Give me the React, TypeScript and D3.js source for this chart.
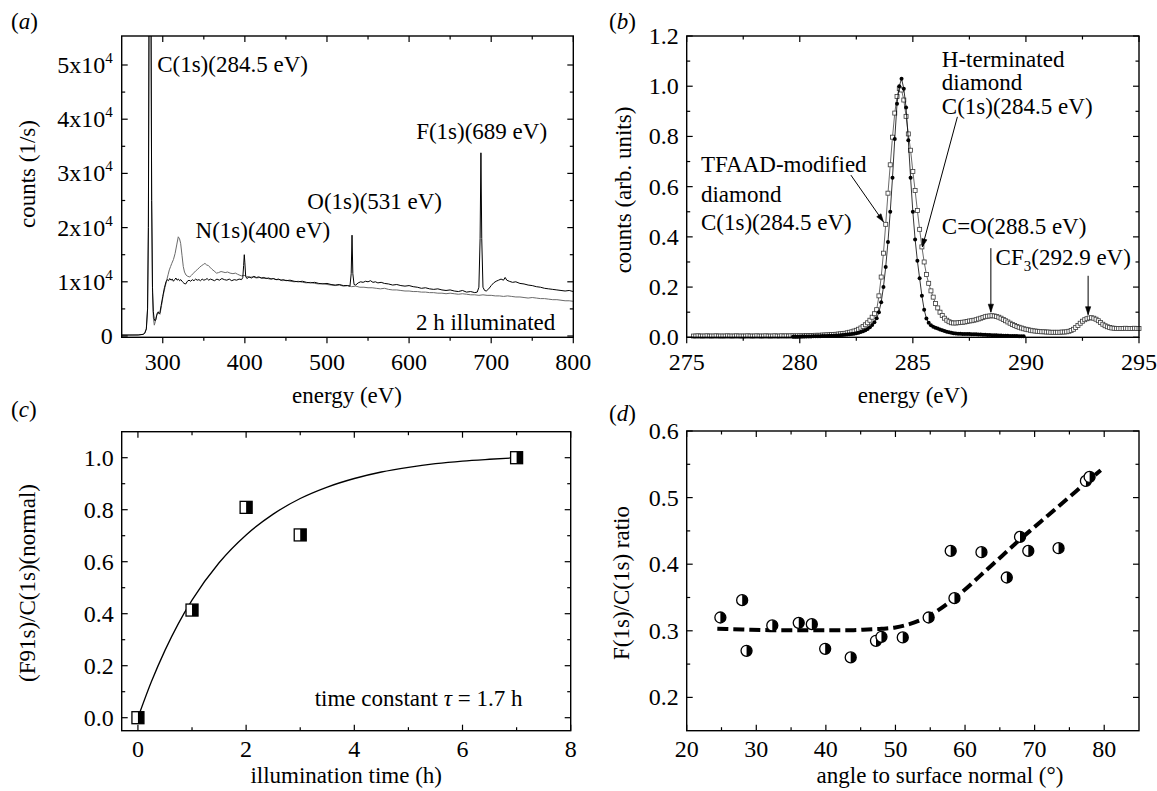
import React, { useEffect, useRef } from "react";
import * as d3 from "d3";

const FONT = "'Liberation Serif','Times New Roman',Times,serif";

// ---------------- Panel (a): survey spectra (energy eV, counts 1/s) ----------------
const aIlluminated: [number, number][] = [
  [250,180],[260,180],[270,190],[276,300],[278,500],[280,1300],[281.5,5000],[282.5,20000],[283.3,60000],[284.5,120000],
  [285.7,60000],[286.5,25000],[287.5,9000],[288.5,4500],[289.5,3200],[290.5,2800],[291.5,3000],[292.5,3700],[293.5,4200],
  [294.5,4400],[295.5,4100],[296.5,4300],[298,5600],[300,7300],[302,8900],[304,10000],[305.5,10400],[307,10200],[308.5,10600],
  [310,10300],[311.5,10500],[313,10100],[314.5,10400],[316,10700],[317.5,10300],[319,10500],[320.5,10200],[322,10400],
  [324,10000],[326,9700],[328,9600],[330,10100],[332,10300],[334,10100],[336,10400],[338,10200],[340,10500],[342,10300],
  [344,10400],[346,10200],[348,10500],[350,10300],[352,10400],[354,10600],[356,10300],[358,10500],[360,10400],[363,10200],
  [366,10500],[369,10300],[372,10600],[375,10400],[378,10300],[381,10500],[384,10200],[387,10400],[390,10300],[393,10500],
  [396,10400],[397.5,10800],[398.5,13000],[399.3,15000],[400,13500],[401,11000],[402.5,10600],[405,10900],[408,10700],
  [411,11000],[414,10800],[417,10900],[420,10700],[423,10800],[426,10600],[429,10700],[432,10500],[435,10600],[438,10400],
  [441,10500],[444,10300],[447,10400],[450,10200],[455,10300],[460,10100],[465,10000],[470,10100],[475,9900],[480,9800],
  [485,9900],[490,9700],[495,9600],[500,9700],[505,9500],[510,9400],[515,9500],[520,9300],[525,9300],[528,9200],
  [529.5,11500],[530.5,18600],[531.5,11500],[533,9500],[535,9400],[538,9800],[541,10000],[544,9900],[547,10100],[550,10000],
  [553,10200],[556,9900],[559,10000],[562,9800],[566,9900],[570,9700],[575,9600],[580,9400],[585,9500],[590,9300],
  [595,9200],[600,9300],[605,9100],[610,9000],[615,8800],[620,8900],[625,8700],[630,8600],[635,8700],[640,8500],
  [645,8400],[650,8500],[655,8300],[660,8200],[665,8400],[670,8100],[675,8200],[680,8000],[683,8100],[685,9000],
  [686.5,18000],[687.5,33800],[688.5,18000],[690,9000],[692,8400],[694,8300],[697,8700],[700,9300],[703,9800],[706,10100],
  [709,10300],[712,10500],[715,10300],[717,10800],[719,10300],[722,10100],[726,9900],[730,10000],[735,9700],[740,9600],
  [745,9400],[750,9300],[755,9100],[760,9000],[765,8800],[770,8700],[775,8600],[780,8500],[785,8400],[790,8300],
  [795,8400],[800,8200]
];
const aReference: [number, number][] = [
  [250,180],[260,180],[270,190],[276,300],[278,500],[280,1300],[281.5,5000],[282.5,20000],[283.3,60000],[284.5,120000],
  [285.7,60000],[286.5,25000],[287.5,8000],[288.5,3500],[289.7,2000],[290.8,2600],[291.8,3300],[292.6,3900],[293.6,4300],
  [294.6,4500],[295.6,4200],[296.6,4000],[298.5,5600],[300.7,7600],[302.8,9000],[304.8,10300],[306.5,11300],[308,12200],
  [309.5,12800],[311,13400],[313,14100],[315,15200],[317,16800],[318.9,18300],[320.5,17900],[321.8,17100],[323.5,14800],
  [325,12800],[326.5,11800],[328.3,11250],[330.5,11000],[333,10900],[335,11200],[337.5,11600],[340,12000],[342.5,12300],
  [345,12700],[347.5,13000],[349.5,13200],[351.4,13400],[353.5,13100],[355.5,13000],[357.5,12700],[360,12300],[362.5,12000],
  [365.5,11600],[368,11700],[371,11900],[373.5,11800],[376,11700],[379,11800],[382,11600],[385.5,11500],[388.5,11600],
  [391,11400],[394,11200],[396,11100],[399,11200],[402,11000],[406,10850],[410,10900],[414,10700],[418,10800],[422,10600],
  [426,10700],[430,10500],[434,10600],[438,10400],[442,10400],[446,10200],[450,10300],[455,10100],[460,10000],[465,10100],
  [470,9900],[475,9800],[480,9900],[485,9700],[490,9600],[495,9700],[500,9500],[505,9400],[510,9300],[515,9400],
  [520,9200],[525,9300],[530,9100],[535,9200],[540,9000],[545,9000],[550,8900],[555,8900],[560,8800],[565,8700],
  [570,8800],[575,8600],[580,8500],[585,8500],[590,8400],[595,8300],[600,8300],[605,8200],[610,8200],[615,8100],
  [620,8100],[625,8000],[630,8000],[635,7900],[640,7900],[645,7800],[650,7900],[655,7800],[660,7700],[665,7800],
  [670,7700],[675,7600],[680,7600],[685,7500],[690,7600],[695,7500],[700,7500],[705,7400],[710,7400],[715,7300],
  [720,7400],[725,7300],[730,7200],[735,7200],[740,7100],[745,7000],[750,7100],[755,7000],[760,6900],[765,6900],
  [770,6800],[775,6700],[780,6700],[785,6600],[790,6500],[795,6500],[800,6400]
];
const aXTicks = [300, 400, 500, 600, 700, 800];
const aXMinor = [350, 450, 550, 650, 750];
const aYTicks = [0, 10000, 20000, 30000, 40000, 50000];
const aYMinor = [5000, 15000, 25000, 35000, 45000];
const aLabels = [
  { text: "C(1s)(284.5 eV)", e: 293.2, c: 48700 },
  { text: "N(1s)(400 eV)", e: 339.9, c: 18170 },
  { text: "O(1s)(531 eV)", e: 476, c: 23340 },
  { text: "F(1s)(689 eV)", e: 608.6, c: 36350 },
  { text: "2 h illuminated", e: 608.4, c: 1100 },
];

// ---------------- Panel (b): C(1s) high resolution ----------------
const bStep = 0.1;
const bTfaadStart = 275.3;
const bTfaad = [
  .005,.005,.006,.005,.005,.005,.006,
  .005,.005,.005,.006,.005,.005,.005,.005,.006,.005,
  .005,.005,.006,.005,.005,.005,.005,.006,.005,.005,
  .005,.006,.005,.005,.005,.006,.005,.005,.005,.006,
  .005,.005,.006,.005,.006,.005,.006,.006,.005,.006,
  .006,.006,.006,.007,.007,.007,.007,.008,.008,.008,
  .009,.009,.010,.010,.011,.011,.012,.013,.014,.015,
  .016,.018,.020,.022,.025,.028,.032,.037,.043,.050,
  .058,.068,.080,.094,.110,.165,.240,.335,.450,.574,
  .687,.797,.893,.959,.990,.985,.945,.880,.810,.745,
  .660,.585,.505,.430,.360,.300,.250,.215,.185,.160,
  .135,.117,.100,.087,.076,.068,.062,.058,.057,.057,
  .058,.059,.060,.061,.063,.065,.066,.068,.070,.073,
  .076,.079,.082,.084,.085,.086,.085,.083,.080,.076,
  .071,.066,.061,.056,.051,.047,.043,.040,.037,.034,
  .032,.030,.028,.026,.025,.024,.023,.022,.022,.021,
  .021,.020,.020,.020,.020,.020,.021,.021,.022,.024,
  .027,.032,.039,.047,.056,.064,.070,.074,.077,.078,
  .076,.072,.066,.059,.052,.046,.042,.039,.037,.036,
  .035,.035,.035,.035,.036,.035,.035,.035,.036,.035,
  .035
];
const bHtermStart = 279.7;
const bHterm = [
  .002,.002,.002,
  .002,.003,.003,.003,.003,.003,.004,.004,.004,.004,
  .005,.005,.005,.006,.006,.006,.007,.007,.008,.009,
  .010,.011,.012,.013,.014,.016,.018,.021,.024,.028,
  .033,.040,.049,.060,.076,.100,.140,.200,.280,.380,
  .500,.635,.790,.930,1.000,1.030,.990,.915,.785,.635,
  .500,.390,.305,.235,.165,.110,.075,.058,.048,.042,
  .038,.035,.031,.028,.025,.022,.020,.018,.016,.015,
  .014,.014,.013,.013,.013,.013,.012,.012,.012,.011,
  .011,.010,.010,.009,.009,.008,.008,.008,.007,.007,
  .006,.006,.006,.005,.005,.005,.005,.004,.004,.004
];
const bXTicks = [275, 280, 285, 290, 295];
const bXMinor = [277.5, 282.5, 287.5, 292.5];
const bYTicks = [0, 0.2, 0.4, 0.6, 0.8, 1.0, 1.2];
const bYMinor = [0.1, 0.3, 0.5, 0.7, 0.9, 1.1];
const bLabels = [
  { text: "H-terminated", e: 286.28, v: 1.078 },
  { text: "diamond", e: 286.28, v: 0.986 },
  { text: "C(1s)(284.5 eV)", e: 286.28, v: 0.891 },
  { text: "TFAAD-modified", e: 275.63, v: 0.66 },
  { text: "diamond", e: 275.63, v: 0.539 },
  { text: "C(1s)(284.5 eV)", e: 275.63, v: 0.427 },
  { text: "C=O(288.5 eV)", e: 286.28, v: 0.413 },
];
const bCF3Label = { e: 288.66, v: 0.288 };
const bArrows = [
  { from: [282.26, 0.646], to: [283.7, 0.46] },
  { from: [286.97, 0.878], to: [285.42, 0.36] },
  { from: [288.45, 0.355], to: [288.45, 0.1] },
  { from: [292.75, 0.245], to: [292.75, 0.09] },
];

// ---------------- Panel (c): F/C ratio vs illumination time ----------------
const cTime = [0, 1, 2, 3, 7];
const cRatio = [0.0, 0.414, 0.809, 0.703, 1.0];
const cFitTime = [0, 0.25, 0.5, 0.75, 1, 1.5, 2, 2.5, 3, 3.5, 4, 4.5, 5, 5.5, 6, 6.5, 7];
const cFitRatio = [0, 0.139, 0.259, 0.363, 0.452, 0.596, 0.703, 0.783, 0.843, 0.887, 0.92, 0.945, 0.963, 0.977, 0.987, 0.994, 1.0];
const cXTicks = [0, 2, 4, 6, 8];
const cXMinor = [1, 3, 5, 7];
const cYTicks = [0, 0.2, 0.4, 0.6, 0.8, 1.0];
const cYMinor = [0.1, 0.3, 0.5, 0.7, 0.9];

// ---------------- Panel (d): F/C ratio vs angle ----------------
const dAngle = [24.84, 27.97, 28.6, 32.3, 36.1, 37.98, 39.9, 43.57, 47.2, 47.99, 51.05, 54.77, 57.94, 58.48, 62.36, 66.0, 67.9, 69.09, 73.44, 77.37, 77.9];
const dRatio = [0.320, 0.346, 0.270, 0.308, 0.312, 0.310, 0.273, 0.260, 0.285, 0.291, 0.290, 0.320, 0.420, 0.349, 0.418, 0.380, 0.441, 0.420, 0.424, 0.525, 0.531];
const dFitAngle = [24.4, 28, 32, 36, 40, 44, 46, 48, 50, 52, 54, 56, 58, 60, 62, 64, 66, 68, 70, 72, 74, 76, 78, 79.5];
const dFitRatio = [0.303, 0.302, 0.301, 0.301, 0.301, 0.301, 0.302, 0.303, 0.305, 0.310, 0.318, 0.330, 0.345, 0.362, 0.381, 0.400, 0.419, 0.438, 0.456, 0.474, 0.492, 0.510, 0.528, 0.541];
const dXTicks = [20, 30, 40, 50, 60, 70, 80];
const dXMinor = [25, 35, 45, 55, 65, 75];
const dYTicks = [0.2, 0.3, 0.4, 0.5, 0.6];
const dYMinor = [0.25, 0.35, 0.45, 0.55];

type Sel = d3.Selection<any, unknown, null, undefined>;

function txt(g: Sel, x: number, y: number, s: string, size = 23, anchor = "start") {
  return g.append("text").attr("x", x).attr("y", y).attr("font-family", FONT)
    .attr("font-size", size).attr("text-anchor", anchor).attr("fill", "#000").text(s);
}

function frame(g: Sel, x: any, y: any, xMaj: number[], xMin: number[], yMaj: number[], yMin: number[], bottomOut: boolean) {
  const [L, R] = x.range();
  const [B, T] = y.range();
  const ln = (x1: number, y1: number, x2: number, y2: number) =>
    g.append("line").attr("x1", x1).attr("y1", y1).attr("x2", x2).attr("y2", y2)
      .attr("stroke", "#000").attr("stroke-width", 1.2);
  const maj = 6, mn = 3.5, bd = bottomOut ? 1 : -1;
  xMaj.forEach(v => { const p = x(v); ln(p, B, p, B + bd * maj); ln(p, T, p, T + maj); });
  xMin.forEach(v => { const p = x(v); ln(p, B, p, B + bd * mn); ln(p, T, p, T + mn); });
  yMaj.forEach(v => { const p = y(v); ln(L, p, L + maj, p); ln(R, p, R - maj, p); });
  yMin.forEach(v => { const p = y(v); ln(L, p, L + mn, p); ln(R, p, R - mn, p); });
  g.append("rect").attr("x", L).attr("y", T).attr("width", R - L).attr("height", B - T)
    .attr("fill", "none").attr("stroke", "#000").attr("stroke-width", 1.4);
}

function xLabels(g: Sel, x: any, y: any, ticks: number[], dy: number, fmt: (v: number) => string) {
  const [B] = y.range();
  ticks.forEach(v => txt(g, x(v), B + dy, fmt(v), 24, "middle"));
}
function yLabels(g: Sel, x: any, y: any, ticks: number[], fmt: (v: number) => string) {
  const [L] = x.range();
  ticks.forEach(v => txt(g, L - 8, y(v) + 8, fmt(v), 24, "end"));
}
function yTitle(g: Sel, cx: number, cy: number, s: string) {
  g.append("text").attr("transform", `translate(${cx + 7},${cy}) rotate(-90)`)
    .attr("font-family", FONT).attr("font-size", 23).attr("text-anchor", "middle").text(s);
}
function panelLabel(g: Sel, x: number, y: number, letter: string) {
  const t = g.append("text").attr("x", x).attr("y", y).attr("font-family", FONT).attr("font-size", 23);
  t.append("tspan").text("(");
  t.append("tspan").attr("font-style", "italic").text(letter);
  t.append("tspan").text(")");
}
function arrow(g: Sel, x1: number, y1: number, x2: number, y2: number) {
  g.append("line").attr("x1", x1).attr("y1", y1).attr("x2", x2).attr("y2", y2)
    .attr("stroke", "#000").attr("stroke-width", 1);
  const a = Math.atan2(y2 - y1, x2 - x1);
  const len = 8, w = 2.6;
  const bx = x2 - len * Math.cos(a), by = y2 - len * Math.sin(a);
  const nx = -Math.sin(a), ny = Math.cos(a);
  g.append("path")
    .attr("d", `M${bx + w * nx},${by + w * ny}L${x2},${y2}L${bx - w * nx},${by - w * ny}Z`)
    .attr("fill", "#000").attr("stroke", "#000").attr("stroke-width", 0.6);
}

function draw(root: Sel) {
  root.append("rect").attr("width", 1157).attr("height", 791).attr("fill", "#fff");
  const defs = root.append("defs");

  // ---------- (a) ----------
  const ax = d3.scaleLinear().domain([250, 800]).range([121.7, 573.3]);
  const ay = d3.scaleLinear().domain([-240, 55350]).range([337.3, 36]);
  defs.append("clipPath").attr("id", "clipA").append("rect")
    .attr("x", 121.7).attr("y", 36).attr("width", 573.3 - 121.7).attr("height", 337.3 - 36);
  const ga = root.append("g");
  const la = d3.line<[number, number]>().x(d => ax(d[0])).y(d => ay(d[1]));
  const gaData = ga.append("g").attr("clip-path", "url(#clipA)");
  gaData.append("path").attr("d", la(aReference)!).attr("fill", "none").attr("stroke", "#6a6a6a").attr("stroke-width", 1);
  gaData.append("path").attr("d", la(aIlluminated)!).attr("fill", "none").attr("stroke", "#000").attr("stroke-width", 1);
  frame(ga, ax, ay, aXTicks, aXMinor, aYTicks, aYMinor, true);
  xLabels(ga, ax, ay, aXTicks, 32.5, v => String(v));
  aYTicks.forEach(v => {
    const t = ga.append("text").attr("x", 121.7 - 9).attr("y", ay(v) + 8).attr("font-family", FONT)
      .attr("font-size", 24).attr("text-anchor", "end");
    if (v === 0) t.text("0");
    else {
      t.append("tspan").text(`${v / 10000}x10`);
      t.append("tspan").attr("font-size", 15).attr("dy", -10).text("4");
    }
  });
  aLabels.forEach(l => txt(ga, ax(l.e), ay(l.c), l.text));
  yTitle(ga, 27.7, 174, "counts (1/s)");
  txt(ga, 347, 403, "energy (eV)", 23, "middle");
  panelLabel(ga, 11, 29, "a");

  // ---------- (b) ----------
  const bx = d3.scaleLinear().domain([275, 295]).range([686.7, 1139]);
  const by = d3.scaleLinear().domain([0, 1.2]).range([337.3, 36]);
  const gb = root.append("g");
  const sq = bTfaad.map((v, i) => [bTfaadStart + i * bStep, v] as [number, number]);
  const ci = bHterm.map((v, i) => [bHtermStart + i * bStep, v] as [number, number]);
  const lb = d3.line<[number, number]>().x(d => bx(d[0])).y(d => by(d[1]));
  gb.append("path").attr("d", lb(sq)!).attr("fill", "none").attr("stroke", "#444").attr("stroke-width", 0.8);
  gb.selectAll("rect.sq").data(sq).enter().append("rect").attr("class", "sq")
    .attr("x", d => bx(d[0]) - 2).attr("y", d => by(d[1]) - 2).attr("width", 4).attr("height", 4)
    .attr("fill", "#fff").attr("stroke", "#3a3a3a").attr("stroke-width", 0.8);
  gb.append("path").attr("d", lb(ci)!).attr("fill", "none").attr("stroke", "#000").attr("stroke-width", 0.8);
  gb.selectAll("circle.ci").data(ci).enter().append("circle").attr("class", "ci")
    .attr("cx", d => bx(d[0])).attr("cy", d => by(d[1])).attr("r", 2).attr("fill", "#000");
  frame(gb, bx, by, bXTicks, bXMinor, bYTicks, bYMinor, true);
  xLabels(gb, bx, by, bXTicks, 32.5, v => String(v));
  yLabels(gb, bx, by, bYTicks, v => v.toFixed(1));
  bLabels.forEach(l => txt(gb, bx(l.e), by(l.v), l.text));
  {
    const t = gb.append("text").attr("x", bx(bCF3Label.e)).attr("y", by(bCF3Label.v))
      .attr("font-family", FONT).attr("font-size", 23);
    t.append("tspan").text("CF");
    t.append("tspan").attr("font-size", 15).attr("dy", 6).text("3");
    t.append("tspan").attr("dy", -6).text("(292.9 eV)");
  }
  bArrows.forEach(a => arrow(gb, bx(a.from[0]), by(a.from[1]), bx(a.to[0]), by(a.to[1])));
  yTitle(gb, 624, 190, "counts (arb. units)");
  txt(gb, 912.8, 403, "energy (eV)", 23, "middle");
  panelLabel(gb, 609, 29, "b");

  // ---------- (c) ----------
  const cx = d3.scaleLinear().domain([-0.3, 8]).range([121.7, 570.7]);
  const cy = d3.scaleLinear().domain([-0.05, 1.1]).range([730.7, 431.7]);
  const gc = root.append("g");
  const fitC = cFitTime.map((t, i) => [t, cFitRatio[i]] as [number, number]);
  gc.append("path").attr("d", d3.line<[number, number]>().x(d => cx(d[0])).y(d => cy(d[1])).curve(d3.curveMonotoneX)(fitC)!)
    .attr("fill", "none").attr("stroke", "#000").attr("stroke-width", 1.3);
  cTime.forEach((t, i) => {
    const px = cx(t), py = cy(cRatio[i]);
    gc.append("rect").attr("x", px - 6).attr("y", py - 6).attr("width", 12).attr("height", 12)
      .attr("fill", "#fff").attr("stroke", "#000").attr("stroke-width", 1.3);
    gc.append("rect").attr("x", px).attr("y", py - 6).attr("width", 6).attr("height", 12).attr("fill", "#000");
  });
  frame(gc, cx, cy, cXTicks, cXMinor, cYTicks, cYMinor, false);
  xLabels(gc, cx, cy, cXTicks, 26, v => String(v));
  yLabels(gc, cx, cy, cYTicks, v => v.toFixed(1));
  {
    const t = gc.append("text").attr("x", cx(3.267)).attr("y", cy(0.045)).attr("font-family", FONT).attr("font-size", 23);
    t.append("tspan").text("time constant ");
    t.append("tspan").attr("font-style", "italic").text("τ");
    t.append("tspan").text(" = 1.7 h");
  }
  yTitle(gc, 27.7, 583, "(F91s)/C(1s)(normal)");
  txt(gc, 346.2, 782.5, "illumination time (h)", 23, "middle");
  panelLabel(gc, 11, 417, "c");

  // ---------- (d) ----------
  const dx = d3.scaleLinear().domain([20, 85]).range([686.7, 1139]);
  const dy = d3.scaleLinear().domain([0.15, 0.6]).range([730.7, 431]);
  const gd = root.append("g");
  const fitD = dFitAngle.map((a, i) => [a, dFitRatio[i]] as [number, number]);
  gd.append("path").attr("d", d3.line<[number, number]>().x(d => dx(d[0])).y(d => dy(d[1])).curve(d3.curveMonotoneX)(fitD)!)
    .attr("fill", "none").attr("stroke", "#000").attr("stroke-width", 4).attr("stroke-dasharray", "11,5");
  dAngle.forEach((a, i) => {
    const px = dx(a), py = dy(dRatio[i]), r = 5.5;
    gd.append("circle").attr("cx", px).attr("cy", py).attr("r", r).attr("fill", "#fff").attr("stroke", "#000").attr("stroke-width", 1.3);
    gd.append("path").attr("d", `M${px},${py - r}A${r},${r} 0 0 1 ${px},${py + r}Z`).attr("fill", "#000");
  });
  frame(gd, dx, dy, dXTicks, dXMinor, dYTicks, dYMinor, false);
  xLabels(gd, dx, dy, dXTicks, 26, v => String(v));
  yLabels(gd, dx, dy, dYTicks, v => v.toFixed(1));
  yTitle(gd, 622.4, 583, "F(1s)/C(1s) ratio");
  txt(gd, 940, 782.5, "angle to surface normal (°)", 23, "middle");
  panelLabel(gd, 609, 421, "d");
}

export default function App() {
  const ref = useRef<SVGSVGElement>(null);
  useEffect(() => {
    const root = d3.select(ref.current as SVGSVGElement) as unknown as Sel;
    root.selectAll("*").remove();
    draw(root);
  }, []);
  return (
    <svg ref={ref} width={1157} height={791}
      style={{ position: "absolute", left: 0, top: 0, display: "block", background: "#fff" }} />
  );
}
